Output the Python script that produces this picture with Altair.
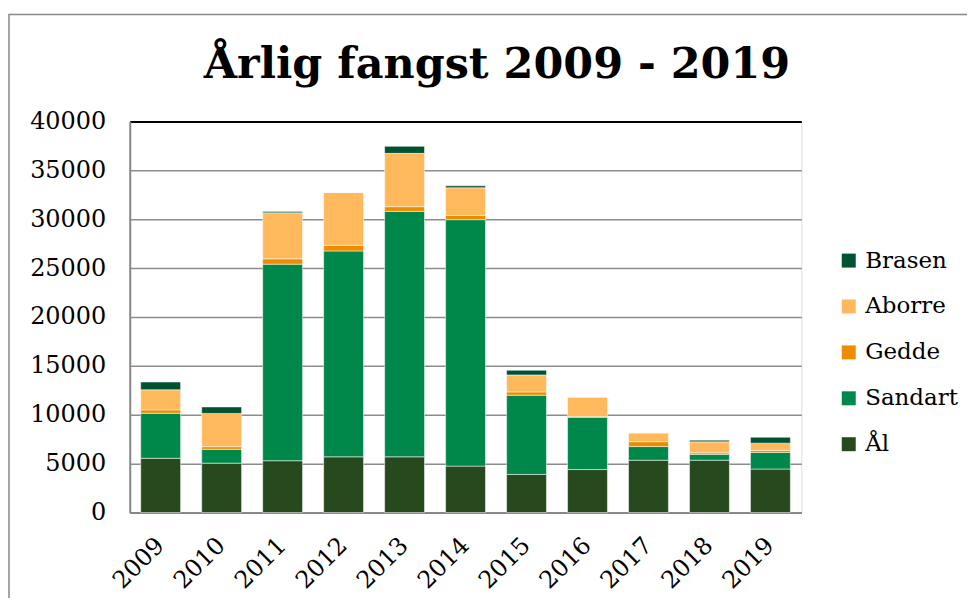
import altair as alt
import pandas as pd

title_text = "Årlig fangst 2009 - 2019"
years = ["2009", "2010", "2011", "2012", "2013", "2014", "2015", "2016", "2017", "2018", "2019"]
species = ["Ål", "Sandart", "Gedde", "Aborre", "Brasen"]  # bottom -> top
aal = [5550, 5050, 5300, 5700, 5700, 4750, 3900, 4400, 5350, 5350, 4450]
sandart = [4600, 1420, 20100, 21050, 25100, 25200, 8100, 5350, 1400, 600, 1700]
gedde = [350, 270, 550, 580, 480, 430, 340, 60, 500, 160, 200]
aborre = [2050, 3400, 4700, 5400, 5450, 2830, 1730, 2000, 900, 1120, 750]
brasen = [800, 660, 140, 0, 720, 200, 480, 0, 0, 170, 600]
colors = ["#264A1E", "#00884B", "#EE8C00", "#FFB95D", "#005231"]

series = {"Ål": aal, "Sandart": sandart, "Gedde": gedde, "Aborre": aborre, "Brasen": brasen}
rows = []
for k, name in enumerate(species):
    for y, v in zip(years, series[name]):
        rows.append({"year": y, "species": name, "value": v, "ord": k})
df = pd.DataFrame(rows)

FONT = "Georgia, 'DejaVu Serif', serif"
legend_order = ["Brasen", "Aborre", "Gedde", "Sandart", "Ål"]
legend_colors = [colors[species.index(s)] for s in legend_order]

bars = alt.Chart(df).mark_bar(stroke="white", strokeWidth=1, strokeOpacity=0.5).encode(
    x=alt.X("year:N", sort=years,
            scale=alt.Scale(paddingInner=0.346, paddingOuter=0.18),
            axis=alt.Axis(title=None, labelAngle=-45, ticks=False, domainColor="#888888",
                          domainWidth=2, labelFontSize=24, labelFont=FONT, labelColor="black",
                          labelPadding=29, labelAlign="right", labelBaseline="middle")),
    y=alt.Y("value:Q", stack="zero",
            scale=alt.Scale(domain=[0, 40000], nice=False),
            axis=alt.Axis(title=None, values=list(range(0, 40001, 5000)), format="d", ticks=False,
                          domainColor="#888888", domainWidth=2,
                          gridColor=alt.condition("datum.value == 40000", alt.value("black"), alt.value("#8c8c8c")),
                          gridWidth=alt.condition("datum.value == 40000", alt.value(2), alt.value(1.5)),
                          labelFontSize=24, labelFont=FONT, labelColor="black",
                          labelPadding=24)),
    color=alt.Color("species:N",
                    scale=alt.Scale(domain=legend_order, range=legend_colors),
                    legend=alt.Legend(title=None, orient="none", legendX=709, legendY=128,
                                      symbolType="square", symbolSize=196, symbolStrokeWidth=0,
                                      labelFontSize=23, labelFont=FONT, labelColor="black",
                                      labelOffset=5, rowPadding=22, padding=0)),
    order=alt.Order("ord:Q", sort="ascending"),
)

one = pd.DataFrame({"a": [0]})
frame = alt.Chart(one).mark_rect(
    fillOpacity=0, stroke="#888888", strokeWidth=1.5
).encode(x=alt.value(-121), x2=alt.value(1100), y=alt.value(-107), y2=alt.value(800))

title = alt.Chart(one).mark_text(
    text=title_text, font=FONT, fontSize=43, fontWeight="bold", color="black",
    align="center", baseline="alphabetic"
).encode(x=alt.value(368), y=alt.value(-43))

chart = alt.layer(frame, bars, title).properties(
    width=673, height=392,
    autosize=alt.AutoSizeParams(type="none"),
    padding={"left": 122, "top": 113, "right": 166, "bottom": 85},
).configure_view(stroke="black", strokeWidth=2).configure(background="white")

chart.save("out.html", embed_options={"renderer": "svg", "actions": False})
